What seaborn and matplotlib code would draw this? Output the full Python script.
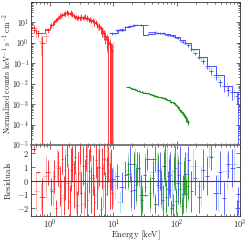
import numpy as np
import pandas as pd
import matplotlib
matplotlib.use("Agg")
import matplotlib.pyplot as plt
from matplotlib.ticker import FuncFormatter
import seaborn as sns

# spectra: energy [keV], flux, fractional error (>=1 means bar down to floor)
red_E = [0.55, 0.65, 0.74, 0.93, 1.05, 1.15, 1.25, 1.35, 1.45, 1.55, 1.65, 1.75, 1.85, 1.95,
         2.05, 2.15, 2.25, 2.35, 2.5, 2.65, 2.8, 2.95, 3.1, 3.3, 3.5, 3.7, 3.9, 4.1, 4.3, 4.5,
         4.75, 5.0, 5.3, 5.6, 5.9, 6.3, 6.7, 7.1, 7.5, 7.9, 8.3, 8.7, 9.1, 9.5]
red_F = [5.0, 2.9, 1.0, 4.0, 7.0, 10, 13, 16, 20, 22, 25, 27, 30, 28,
         26, 29, 24, 20, 18, 16, 17, 15, 18, 16, 19, 15, 17, 13, 14, 11,
         12, 9.0, 10, 7.0, 6.5, 4.5, 3.5, 2.8, 2.0, 1.4, 1.0, 0.7, 0.5, 0.4]
red_err = [0.4, 0.35, 1.0, 0.3, 0.3, 0.25, 0.25, 0.25, 0.3, 0.2, 0.25, 0.3, 0.3, 0.25,
           0.2, 0.3, 0.25, 0.2, 0.25, 0.2, 0.25, 0.2, 0.3, 0.2, 0.25, 0.2, 0.25, 0.2, 0.25, 0.2,
           0.25, 0.3, 0.25, 0.3, 0.35, 0.4, 0.45, 0.5, 0.6, 0.7, 1.0, 1.0, 1.0, 1.0]
red_model = [4.0, 3.0, 2.8, 4.5, 7, 10, 13, 16, 19, 22, 24, 26, 27, 27,
             26, 25, 23, 21, 19, 18, 17, 17, 17, 17, 16, 16, 15, 14, 13, 12,
             11, 10, 9, 7.5, 6.2, 5.0, 3.8, 2.9, 2.1, 1.5, 1.1, 0.8, 0.6, 0.45]

pink_E = [0.6, 0.72, 0.85, 1.1, 1.3, 1.5, 1.7, 1.9, 2.2, 2.6, 3.0, 3.4, 3.8, 4.4, 5.0, 5.8, 6.8, 8.0, 9.0, 9.8]
pink_F = [3.5, 1.2, 2.0, 8.0, 14, 21, 26, 24, 27, 18, 16, 18, 15, 13, 10, 6.0, 3.6, 1.5, 0.8, 0.6]
pink_err = [0.5, 0.8, 0.5, 0.35, 0.3, 0.3, 0.3, 0.3, 0.3, 0.3, 0.3, 0.3, 0.3, 0.3, 0.35, 0.4, 0.5, 0.8, 1.0, 1.0]

blue_E = [9.5, 11.5, 13.5, 15.5, 18, 21, 24, 27, 45, 50, 55, 60, 66, 72, 79, 86, 94, 103, 113,
          124, 136, 150, 170, 195, 225, 260, 300, 350, 410, 480, 560, 650, 760, 880, 940]
blue_F = [2.8, 4.0, 4.5, 5.5, 6.5, 7.0, 7.5, 7.0, 3.2, 3.0, 2.9, 2.8, 2.6, 2.4, 2.2, 2.0, 1.8, 1.6, 1.35,
          1.1, 0.95, 0.75, 0.5, 0.3, 0.2, 0.12, 0.07, 0.04, 0.025, 0.012, 0.0075, 0.005, 0.004, 0.0025, 0.002]
blue_err = [0.2, 0.15, 0.15, 0.12, 0.1, 0.1, 0.1, 0.1, 0.1, 0.1, 0.1, 0.1, 0.1, 0.1, 0.1, 0.1, 0.12, 0.12, 0.12,
            0.15, 0.15, 0.15, 0.2, 0.2, 0.25, 0.25, 0.3, 0.35, 0.4, 0.45, 0.5, 0.5, 0.6, 0.6, 1.0]
blue_mE = [9, 12, 15, 18, 21, 24, 28, 29, 35, 45, 55, 66, 79, 94, 113, 136, 170, 225, 300, 410, 560, 760, 1000]
blue_model = [3.0, 4.3, 5.5, 6.5, 7.0, 7.2, 7.2, 2.4, 2.6, 3.0, 2.9, 2.6, 2.2, 1.8, 1.35, 0.95, 0.5,
              0.2, 0.07, 0.025, 0.0075, 0.004, 0.0015]

lblue_E = [10.5, 12.5, 17, 22, 26, 48, 58, 70, 84, 100, 120, 145, 180, 240, 320, 450, 620, 800]
lblue_F = [2.5, 3.8, 5.8, 7.2, 7.0, 3.0, 2.7, 2.3, 2.0, 1.7, 1.2, 0.85, 0.45, 0.17, 0.06, 0.02, 0.008, 0.004]
lblue_err = [0.2, 0.15, 0.12, 0.1, 0.1, 0.12, 0.12, 0.12, 0.12, 0.15, 0.15, 0.2, 0.25, 0.3, 0.35, 0.45, 0.5, 0.6]

green_E = [17, 19, 21, 23, 25, 28, 31, 34, 38, 42, 46, 51, 56, 62, 68, 75, 82, 90, 98, 106, 114, 122, 130, 140, 150]
green_F = [0.0068, 0.006, 0.0055, 0.005, 0.0045, 0.004, 0.0036, 0.0033, 0.003, 0.0027, 0.0025, 0.0023, 0.0021,
           0.0019, 0.0017, 0.0015, 0.0013, 0.0011, 0.0009, 0.0007, 0.0005, 0.0004, 0.0003, 0.0002, 0.00013]
green_err = [0.05, 0.05, 0.05, 0.05, 0.05, 0.06, 0.06, 0.06, 0.07, 0.07, 0.08, 0.08, 0.08,
             0.1, 0.1, 0.1, 0.12, 0.12, 0.15, 0.15, 0.2, 0.2, 0.25, 0.3, 0.3]

# residuals (value, error) per data point
red_res = [2.3, 0.6, -1.2, 0.6, -0.8, 0.3, -2.0, 0.9, -0.4, 1.6, -1.1, 0.2, 1.9, -0.6, -1.5, 0.8, 1.2, -0.3,
           1.7, -1.8, 0.5, 2.1, -0.9, 1.1, -0.2, 1.8, -1.4, 0.7, 2.2, -0.7, 0.4, -1.6, 1.5, -0.5, 1.0,
           -2.1, 0.9, 1.6, -1.0, 0.3, 1.2, -0.4, 0.8, -0.9]
red_res_err = [0.2, 0.05, 1.4, 0.9, 1.0, 1.2, 0.6, 1.3, 1.5, 1.1, 1.4, 1.6, 0.9, 1.5, 1.2, 1.6, 1.3, 1.7,
               1.2, 1.0, 1.6, 0.9, 1.5, 1.4, 1.8, 1.1, 1.3, 1.6, 0.8, 1.7, 1.5, 1.2, 1.3, 1.6, 1.4,
               0.9, 1.5, 1.2, 1.6, 1.4, 1.3, 1.7, 1.5, 1.2]
pink_res = [-0.8, -1.2, 0.3, -0.6, 1.1, -1.3, 0.8, -0.2, 1.4, -0.9, 0.6, -1.7, 1.3, 0.2, -1.1, 0.9, -0.4, 1.5, 0.6, -0.3]
pink_res_err = [1.4, 1.0, 1.5, 1.3, 1.2, 1.4, 1.6, 1.5, 1.1, 1.5, 1.6, 0.9, 1.3, 1.7, 1.4, 1.5, 1.6, 1.0, 1.5, 1.4]
blue_res = [0.1, 0.3, -0.5, 0.4, 1.2, -0.7, 0.9, -1.1, 1.6, -0.3, 0.7, -1.4, 1.1, -0.6, 0.4, -1.8, 0.9, -0.2,
            1.3, -1.0, 0.5, 1.5, -0.8, 0.2, -1.2, 0.8, 0.3, 1.7, -0.9, 0.6, -1.3, 1.2, 0.9, -2.0, -1.5]
blue_res_err = [0.8, 0.9, 1.1, 1.0, 1.3, 1.4, 1.2, 1.5, 0.9, 1.6, 1.4, 1.1, 1.5, 1.3, 1.7, 0.8, 1.6, 1.5,
                1.2, 1.4, 1.6, 1.0, 1.5, 1.3, 1.2, 1.5, 1.4, 0.9, 1.3, 1.6, 1.2, 1.0, 1.4, 0.6, 1.0]
lblue_res = [-0.3, -1.6, 0.8, 1.2, -0.5, 0.6, -1.0, 1.4, -0.7, 0.9, -1.3, 0.5, 1.1, -0.4, 1.8, -0.9, 0.7, 1.2]
lblue_res_err = [1.0, 0.8, 1.3, 1.2, 1.5, 1.4, 1.2, 1.0, 1.5, 1.3, 1.1, 1.6, 1.2, 1.5, 0.8, 1.4, 1.3, 1.2]
green_res = [0.5, -0.8, 1.2, -0.3, 0.9, -1.4, 0.4, 1.6, -0.9, 0.2, -1.7, 0.8, -0.5, 1.1, -1.2, 0.3, -2.0,
             0.7, -1.5, 0.4, -0.6, -1.9, 0.2, -1.0, -0.4]
green_res_err = [1.2, 1.4, 1.0, 1.5, 1.3, 1.1, 1.6, 0.9, 1.4, 1.5, 0.8, 1.3, 1.5, 1.2, 1.4, 1.6, 0.6,
                 1.3, 1.1, 1.5, 1.4, 0.8, 1.5, 1.3, 1.2]

FLOOR = 1e-7

def half_widths(E):
    E = np.asarray(E, float)
    edges = np.sqrt(E[1:] * E[:-1])
    lo = np.concatenate([[E[0] ** 2 / edges[0]], edges])
    hi = np.concatenate([edges, [E[-1] ** 2 / edges[-1]]])
    return [E - lo, hi - E]

def draw_spec(ax, E, F, err, color, lw=0.6):
    F = np.asarray(F, float)
    err = np.asarray(err, float)
    lo = np.where(err >= 1, F - FLOOR, F * err)
    hi = F * err
    ax.errorbar(E, F, xerr=half_widths(E), yerr=[lo, hi], fmt='none', ecolor=color, elinewidth=lw)

def draw_res(ax, E, r, rerr, color, lw=0.6):
    ax.errorbar(E, r, xerr=half_widths(E), yerr=rerr, fmt='none', ecolor=color, elinewidth=lw)

def pow10(v, pos):
    return r'$10^{%d}$' % int(round(np.log10(v)))

sns.set_style("ticks")
plt.rcParams['font.family'] = ['DejaVu Serif']
plt.rcParams['mathtext.fontset'] = 'cm'
plt.rcParams['axes.linewidth'] = 0.6
plt.rcParams['axes.edgecolor'] = '#333333'

fig = plt.figure(figsize=(2.49, 2.41), dpi=100)
ax1 = fig.add_axes([0.1245, 0.398, 0.8395, 0.594])
ax2 = fig.add_axes([0.1245, 0.104, 0.8395, 0.294], sharex=ax1)

col_red = '#ff1a1a'
col_pink = '#ff9c9c'
col_blue = '#4d4dff'
col_lblue = '#a9d9f2'
col_green = '#1f8f1f'
col_lgreen = '#8fd08f'

# top panel
draw_spec(ax1, pink_E, pink_F, pink_err, col_pink)
draw_spec(ax1, lblue_E, lblue_F, lblue_err, col_lblue)
draw_spec(ax1, red_E, red_F, red_err, col_red)
draw_spec(ax1, blue_E, blue_F, blue_err, col_blue)
draw_spec(ax1, green_E, green_F, green_err, col_green, lw=0.8)
ax1.step(red_E, red_model, where='mid', color=col_red, lw=0.6)
ax1.step(blue_mE, blue_model, where='post', color=col_blue, lw=0.7)
ax1.step(green_E, green_F, where='mid', color=col_green, lw=0.6)

ax1.set_xscale('log')
ax1.set_yscale('log')
ax1.set_xlim(0.5, 1000)
ax1.set_ylim(1e-5, 95)
ax1.yaxis.set_major_formatter(FuncFormatter(pow10))
ax1.set_ylabel(r'$\mathrm{Normalized\ counts\ keV^{-1}\ s^{-1}\ cm^{-2}}$', fontsize=5.6)
ax1.yaxis.set_label_coords(-0.085, 0.5)
plt.setp(ax1.get_xticklabels(), visible=False)

# residuals
draw_res(ax2, pink_E, pink_res, pink_res_err, col_pink)
draw_res(ax2, lblue_E, lblue_res, lblue_res_err, col_lblue)
draw_res(ax2, green_E, green_res, green_res_err, col_lgreen)
draw_res(ax2, red_E, red_res, red_res_err, col_red)
draw_res(ax2, green_E, green_res, [0.8 * e for e in green_res_err], col_green)
draw_res(ax2, blue_E, blue_res, blue_res_err, col_blue)
ax2.axhline(0, color='#444444', lw=0.8)
ax2.set_ylim(-2.6, 2.6)
ax2.set_yticks([-2, -1, 0, 1, 2])
ax2.set_yticklabels([r'$-2$', r'$-1$', r'$0$', r'$1$', r'$2$'])
ax2.set_ylabel(r'$\mathrm{Residuals}$', fontsize=6.5)
ax2.yaxis.set_label_coords(-0.085, 0.5)
ax2.set_xlabel(r'$\mathrm{Energy\ [keV]}$', fontsize=6.2)
ax2.xaxis.set_label_coords(0.5, -0.18)
ax2.set_xticks([1, 10, 100, 1000])
ax2.xaxis.set_major_formatter(FuncFormatter(pow10))

for ax in (ax1, ax2):
    ax.tick_params(which='both', direction='in', top=True, right=True, labelsize=6,
                   width=0.5, color='#333333', labelcolor='#222222', pad=1.5)
    ax.tick_params(which='major', length=3)
    ax.tick_params(which='minor', length=1.5)
ax1.tick_params(axis='y', labelsize=5.5)
ax2.tick_params(axis='x', pad=1)
ax2.spines['top'].set_linewidth(1.2)
ax2.spines['top'].set_color('#666666')

fig.savefig('out.png', dpi=100)
